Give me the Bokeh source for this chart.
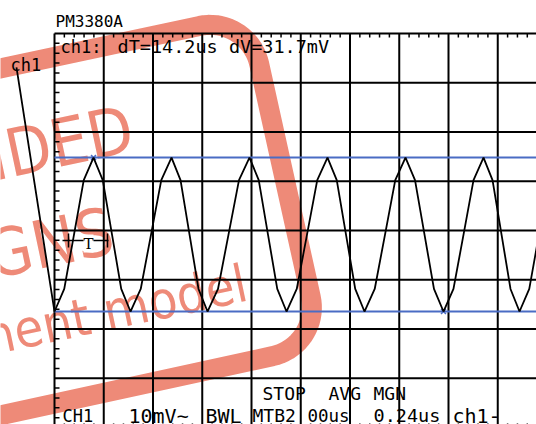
import numpy as np
from bokeh.plotting import figure
from bokeh.models import Range1d, Label
from bokeh.core.properties import value
from bokeh.embed import file_html
from bokeh.resources import INLINE

# ---------------- data (graticule divisions, 10 mV/div) ----------------
trace_t = [-0.772, 0.000,
           0.198, 0.396, 0.594, 0.792, 0.980, 1.168, 1.355, 1.543,
           1.751, 1.960, 2.168, 2.376, 2.559, 2.742, 2.924, 3.107,
           3.320, 3.533, 3.746, 3.959, 4.147, 4.335, 4.523, 4.711,
           4.919, 5.127, 5.335, 5.543, 5.731, 5.919, 6.106, 6.294,
           6.502, 6.711, 6.919, 7.127, 7.320, 7.513, 7.705, 7.898,
           8.101, 8.305, 8.508, 8.711, 8.894, 9.077, 9.259, 9.442,
           9.640, 9.837, 10.03]
trace_v = [3.310, -1.645,
           -1.187, -0.083, 1.022, 1.480, 1.022, -0.083, -1.187, -1.645,
           -1.187, -0.083, 1.022, 1.480, 1.022, -0.083, -1.187, -1.645,
           -1.187, -0.083, 1.022, 1.480, 1.022, -0.083, -1.187, -1.645,
           -1.187, -0.083, 1.022, 1.480, 1.022, -0.083, -1.187, -1.645,
           -1.187, -0.083, 1.022, 1.480, 1.022, -0.083, -1.187, -1.645,
           -1.187, -0.083, 1.022, 1.480, 1.022, -0.083, -1.187, -1.645,
           -1.187, -0.083, 1.022]
cursor_levels = [1.480, -1.645]
cursor_marks_t = [0.792, 7.898]
cursor_marks_v = [1.480, -1.645]
grid_cols = list(range(0, 11))
grid_rows = list(range(-4, 5))

# reference-pixel -> graticule division helpers (layout only)
def rx(px):
    return (px - 54.0) / 49.25

def ry(py):
    return 4.0 - (py - 33.0) / 49.25

p = figure(width=536, height=424, output_backend="svg", toolbar_location=None,
           x_range=Range1d(rx(0), rx(536)), y_range=Range1d(ry(424), ry(0)),
           x_axis_location=None, y_axis_location=None, min_border=0)
p.grid.visible = False
p.outline_line_color = None
p.background_fill_color = "white"
p.border_fill_color = "white"

SALMON = "#ee8a78"

# ---------------- watermark stamp (behind everything) ----------------
corners = [(-300, 132), (248, 15), (321, 345), (-300, 480)]
r, k = 50.0, 0.552
wx, wy = [], []
n = len(corners)
for i in range(n):
    C = np.array(corners[i], float)
    P = np.array(corners[i - 1], float)
    N = np.array(corners[(i + 1) % n], float)
    A = C + r * (P - C) / np.linalg.norm(P - C)
    B = C + r * (N - C) / np.linalg.norm(N - C)
    c1 = A + k * (C - A)
    c2 = B + k * (C - B)
    t = np.linspace(0, 1, 20)[:, None]
    pts = ((1 - t) ** 3) * A + 3 * ((1 - t) ** 2) * t * c1 + 3 * (1 - t) * t ** 2 * c2 + t ** 3 * B
    for q in pts:
        wx.append(rx(q[0]))
        wy.append(ry(q[1]))
wx.append(wx[0]); wy.append(wy[0])
p.line(wx, wy, line_width=20, line_color=SALMON, line_join="round")

ang = 0.209
WFONT = "DejaVu Sans Condensed"
p.text(x=[rx(132), rx(112)], y=[ry(128), ry(230)],
       text=["NOT RECOMMENDED", "FOR NEW DESIGNS"],
       angle=ang, text_align="right", text_baseline="alphabetic",
       text_font=value(WFONT), text_font_size=value("66px"),
       text_color=SALMON)
p.text(x=[rx(246)], y=[ry(282)], text=["see replacement model"],
       angle=ang, text_align="right", text_baseline="alphabetic",
       text_font=value(WFONT), text_font_size=value("52px"),
       text_color=SALMON)

# ---------------- graticule ----------------
x_end = rx(545)
y_end = ry(440)
p.segment(x0=grid_cols, y0=[4] * len(grid_cols), x1=grid_cols, y1=[y_end] * len(grid_cols),
          line_color="black", line_width=2)
p.segment(x0=[0] * len(grid_rows), y0=grid_rows, x1=[x_end] * len(grid_rows), y1=grid_rows,
          line_color="black", line_width=2)
tx = [v for v in np.arange(0, 10.01, 0.2) if abs(v - round(v)) > 1e-6]
p.segment(x0=tx, y0=[4] * len(tx), x1=tx, y1=[4 - 4 / 49.25] * len(tx),
          line_color="black", line_width=1.5)
p.segment(x0=tx, y0=[-4] * len(tx), x1=tx, y1=[-4 + 4 / 49.25] * len(tx),
          line_color="black", line_width=1.5)
ty = [v for v in np.arange(-4, 4.01, 0.2) if abs(v - round(v)) > 1e-6]
p.segment(x0=[0] * len(ty), y0=ty, x1=[5 / 49.25] * len(ty), y1=ty,
          line_color="black", line_width=1.5)

# ---------------- cursors ----------------
for lv in cursor_levels:
    p.line([0, x_end], [lv, lv], line_color="#4a6cc4", line_width=2)
p.scatter(cursor_marks_t, cursor_marks_v, marker="x", size=7, line_color="#4a6cc4", line_width=1.5)

# ---------------- trace ----------------
p.line(trace_t, trace_v, line_color="black", line_width=1.8)

# trigger marker "T"
p.line([rx(62), rx(108)], [ry(240), ry(240)], line_color="black", line_width=1.5)
p.segment(x0=[rx(68), rx(107)], y0=[ry(233), ry(233)], x1=[rx(68), rx(107)], y1=[ry(247), ry(247)],
          line_color="black", line_width=1.5)

MONO = "DejaVu Sans Mono"

def lab(x, y, txt, size, font=MONO, align="left", color="black", bg=None):
    p.add_layout(Label(x=rx(x), y=ry(y), text=txt, text_font=font, text_font_size=size,
                       text_color=color, text_align=align, text_baseline="alphabetic",
                       background_fill_color=bg))

lab(88, 243, "T", "15px", font="DejaVu Serif", align="center", bg="white")
lab(55, 21, "PM3380A", "16px")
lab(10, 64, "ch1", "17px")
lab(60, 46, "ch1:", "17px")
lab(117, 46, "dT=14.2us dV=31.7mV", "18.5px")
lab(262, 393, "STOP", "18px")
lab(328, 393, "AVG", "18px")
lab(373, 393, "MGN", "18px")
for x, s, fs in [(62, "CH1", "17px"), (128, "10mV~", "20px"), (205, "BWL", "20px"),
                 (252, "MTB2", "18px"), (307, "00us", "17.5px"),
                 (373, "0.24us", "18.5px"), (452, "ch1-", "20px")]:
    lab(x, 415, s, fs)

open("out.html", "w").write(file_html(p, INLINE))
